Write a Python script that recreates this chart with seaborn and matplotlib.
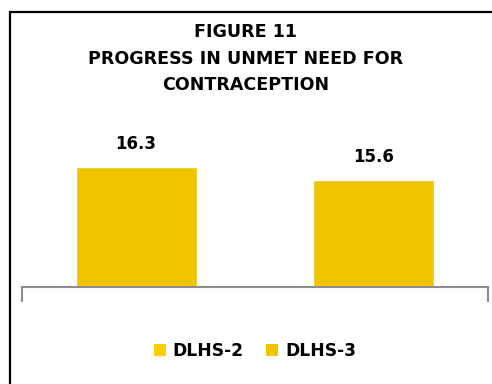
import matplotlib
matplotlib.use("Agg")
import matplotlib.pyplot as plt
import seaborn as sns
import pandas as pd
from matplotlib.patches import Patch, Rectangle

title = "FIGURE 11\nPROGRESS IN UNMET NEED FOR\nCONTRACEPTION"
category = ["Unmet need"]
series = ["DLHS-2", "DLHS-3"]
values = [16.3, 15.6]
bar_colors = ["#F0C400", "#F0C400"]
legend_colors = ["#FFCC00", "#F0C400"]

df = pd.DataFrame({"cat": category * len(series), "series": series, "value": values})

sns.set_theme(style="white")
plt.rcParams['font.family'] = ['DejaVu Sans']

W, H = 492, 384
fig = plt.figure(figsize=(W / 100, H / 100), dpi=100)
ax = fig.add_axes([22 / W, (H - 287) / H, (488 - 22) / W, (287 - 134) / H])

sns.barplot(data=df, x="cat", y="value", hue="series", palette=bar_colors,
            width=1.02, gap=0.49, ax=ax, legend=False, saturation=1)

ax.set_ylim(10, 18)
ax.set_xlim(-0.5, 0.5)
for c in ax.containers:
    ax.bar_label(c, fmt="%.1f", padding=10, fontsize=12, fontweight="bold", color="black")

for s in ["top", "left", "right"]:
    ax.spines[s].set_visible(False)
ax.spines["bottom"].set_color("#8C8C8C")
ax.spines["bottom"].set_linewidth(1.5)
ax.set_yticks([])
ax.set_xticks([-0.5, 0.5])
ax.set_xticklabels(["", ""])
ax.tick_params(axis="x", direction="out", length=10.5, width=1.5, color="#8C8C8C", bottom=True)
ax.set_xlabel("")
ax.set_ylabel("")

fig.text(0.5, 1 - 58.5 / H, title, ha="center", va="center", fontsize=12.6,
         fontweight="bold", color="black", linespacing=1.62)

handles = [Patch(facecolor=c, edgecolor="none") for c in legend_colors]
fig.legend(handles, series, loc="center", bbox_to_anchor=(255 / W, 1 - 351 / H),
           ncol=2, frameon=False, prop={"weight": "bold", "size": 12.3}, labelcolor="black",
           handlelength=0.7, handleheight=0.7, handletextpad=0.4, columnspacing=1.3)

fig.patches.append(Rectangle((9.5 / W, -0.1), 1.2, 1.1 - 11.5 / H, transform=fig.transFigure,
                             fill=False, edgecolor="black", linewidth=1.6))

fig.savefig("out.png", dpi=100)
